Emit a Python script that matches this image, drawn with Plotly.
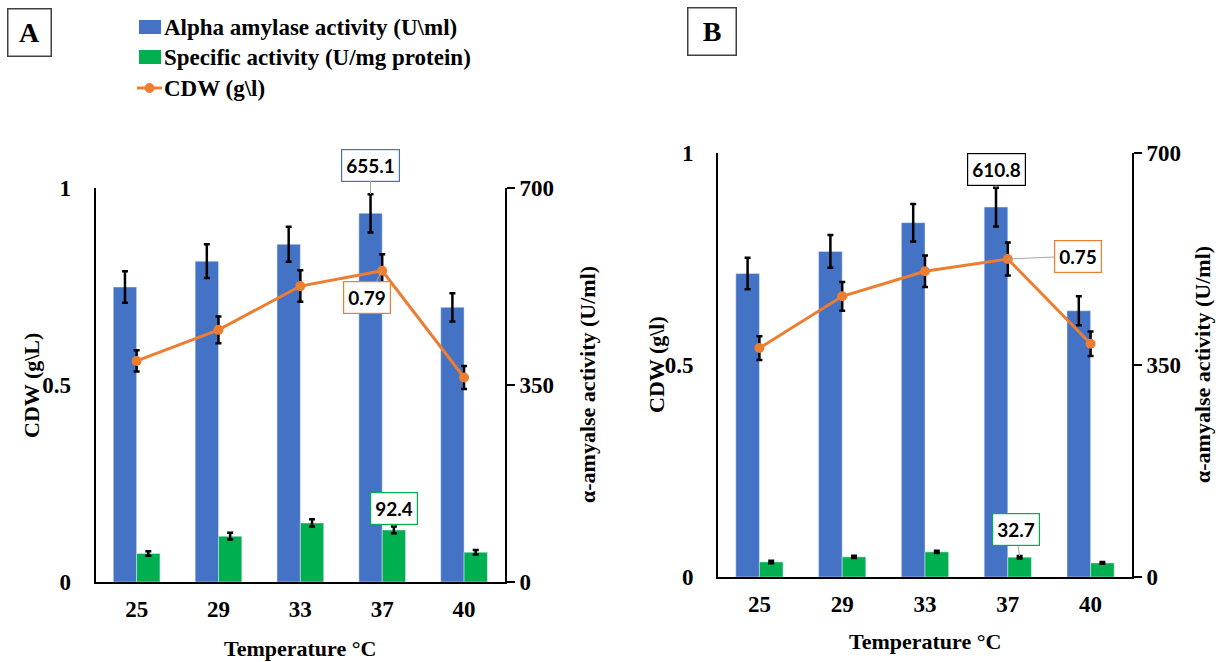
import plotly.graph_objects as go

# ---------------- data ----------------
temps = ['25', '29', '33', '37', '40']

A_amylase = [524, 570, 600, 655.1, 488]
A_amylase_err = [28, 30, 31, 34, 25]
A_specific = [50.7, 81.3, 104.9, 92.4, 53]
A_specific_err = [4, 6, 6.5, 6, 4]
A_cdw = [0.561, 0.640, 0.751, 0.79, 0.519]
A_cdw_err = [0.027, 0.034, 0.040, 0.042, 0.029]

B_amylase = [501, 537.5, 585, 610.8, 439.6]
B_amylase_err = [26, 27, 31, 32, 24]
B_specific = [24.9, 33.2, 41.5, 32.7, 23.2]
B_specific_err = [2, 2, 2, 2, 1.5]
B_cdw = [0.54, 0.662, 0.721, 0.75, 0.55]
B_cdw_err = [0.028, 0.034, 0.037, 0.039, 0.029]

series_names = ['Alpha amylase activity (U\\ml)', 'Specific activity (U/mg protein)', 'CDW (g\\l)']

BLUE = '#4472C4'
GREEN = '#00B050'
ORANGE = '#ED7D31'
SERIF = 'Liberation Serif'
W, H = 1221, 662

fig = go.Figure()

def add_panel(xr, ybar, yline, amy, amy_e, spec, spec_e, cdw, cdw_e):
    fig.add_trace(go.Bar(x=temps, y=amy, name=series_names[0],
                         marker=dict(color=BLUE), xaxis=xr, yaxis=ybar,
                         error_y=dict(type='data', array=amy_e, color='black', thickness=2.5, width=3),
                         showlegend=False))
    fig.add_trace(go.Bar(x=temps, y=spec, name=series_names[1],
                         marker=dict(color=GREEN), xaxis=xr, yaxis=ybar,
                         error_y=dict(type='data', array=spec_e, color='black', thickness=2.5, width=3),
                         showlegend=False))
    fig.add_trace(go.Scatter(x=temps, y=cdw, name=series_names[2], mode='lines+markers',
                             line=dict(color=ORANGE, width=3),
                             marker=dict(color=ORANGE, size=10),
                             error_y=dict(type='data', array=cdw_e, color='black', thickness=2.5, width=3),
                             xaxis=xr, yaxis=yline, showlegend=False))

add_panel('x', 'y', 'y2', A_amylase, A_amylase_err, A_specific, A_specific_err, A_cdw, A_cdw_err)
add_panel('x2', 'y3', 'y4', B_amylase, B_amylase_err, B_specific, B_specific_err, B_cdw, B_cdw_err)

tickfont = dict(family=SERIF, size=23, color='black', weight='bold')

def xax(domain, anchor):
    return dict(domain=domain, anchor=anchor, type='category', categoryorder='array',
                categoryarray=temps, range=[-0.5, len(temps) - 0.5], automargin=False,
                showline=True, linecolor='black', linewidth=2,
                ticks='', showgrid=False, tickfont=tickfont, ticklabelstandoff=5)

def right_ax(domain, anchor):
    return dict(domain=domain, anchor=anchor, side='right', range=[0, 700], automargin=False,
                tickvals=[0, 350, 700], showline=True, linecolor='black', linewidth=2,
                ticks='outside', ticklen=8, tickwidth=2, tickcolor='black',
                showgrid=False, zeroline=False, tickfont=tickfont, ticklabelstandoff=0)

def left_ax(overlay, anchor):
    return dict(overlaying=overlay, anchor=anchor, side='left', range=[0, 1], automargin=False,
                tickvals=[0, 0.5, 1], ticktext=['0', '0.5', '1'], showline=True,
                linecolor='black', linewidth=2, ticks='', showgrid=False, zeroline=False,
                tickfont=tickfont, ticklabelstandoff=18)

A_xdom = [95.7 / W, 505 / W]
A_ydom = [1 - 582 / H, 1 - 188 / H]
B_xdom = [718 / W, 1132 / W]
B_ydom = [1 - 577 / H, 1 - 153 / H]

fig.update_layout(
    width=W, height=H, margin=dict(l=0, r=0, t=0, b=0, pad=0, autoexpand=False),
    paper_bgcolor='white', plot_bgcolor='white',
    barmode='group', bargap=0.43, bargroupgap=0,
    font=dict(family=SERIF, size=22, color='black'),
    showlegend=False,
    xaxis=xax(A_xdom, 'y'),
    yaxis=right_ax(A_ydom, 'x'),
    yaxis2=left_ax('y', 'x'),
    xaxis2=xax(B_xdom, 'y3'),
    yaxis3=right_ax(B_ydom, 'x2'),
    yaxis4=left_ax('y3', 'x2'),
)

annots = []
shapes = []
title_font = dict(family=SERIF, size=22, color='black', weight='bold')
# axis titles
for x, y, txt, ang in [
    (31, 385, 'CDW (g\\L)', -90), (587, 385, 'α-amyalse activity (U/ml)', -90),
    (656, 365, 'CDW (g\\l)', -90), (1202, 365, 'α-amyalse activity (U/ml)', -90),
    (300, 648, 'Temperature °C', 0), (925, 641, 'Temperature °C', 0)]:
    annots.append(dict(x=x / W, y=1 - y / H, xref='paper', yref='paper', text=txt,
                       textangle=ang, showarrow=False, font=title_font,
                       xanchor='center', yanchor='middle'))
# panel letters
for x, y, w, h, txt in [(30, 32, 40, 44, 'A'), (712, 31, 45, 44, 'B')]:
    annots.append(dict(x=x / W, y=1 - y / H, xref='paper', yref='paper', text=txt,
                       showarrow=False, font=dict(family=SERIF, size=28, color='black', weight='bold'),
                       width=w, height=h, bordercolor='#404040', borderwidth=1.5,
                       bgcolor='white', xanchor='center', yanchor='middle'))

# legend (drawn manually to match the wide swatches)
leg_font = dict(family=SERIF, size=23, color='black', weight='bold')
leg_rows = [27, 57, 88]
for k, (name, col) in enumerate(zip(series_names, [BLUE, GREEN, ORANGE])):
    yc = leg_rows[k]
    if k < 2:
        shapes.append(dict(type='rect', xref='paper', yref='paper',
                           x0=139 / W, x1=161 / W, y0=1 - (yc + 7) / H, y1=1 - (yc - 7) / H,
                           fillcolor=col, line=dict(width=0)))
    else:
        shapes.append(dict(type='line', xref='paper', yref='paper',
                           x0=137 / W, x1=162 / W, y0=1 - yc / H, y1=1 - yc / H,
                           line=dict(color=col, width=3)))
        shapes.append(dict(type='circle', xref='paper', yref='paper',
                           x0=145 / W, x1=154 / W, y0=1 - (yc + 4.5) / H, y1=1 - (yc - 4.5) / H,
                           fillcolor=col, line=dict(color=col, width=1)))
    annots.append(dict(x=162 / W, y=1 - yc / H, xref='paper', yref='paper', text=name,
                       showarrow=False, font=leg_font, xanchor='left', yanchor='middle'))

lab_font = dict(family='Lato', size=19, color='black', weight='bold')
i = temps.index('37')

def label(xr, yr, y, txt, col, xshift, ax, ay):
    annots.append(dict(x=i, y=y, xref=xr, yref=yr, text=txt, xshift=xshift,
                       showarrow=True, ax=ax, ay=ay, arrowhead=0, arrowwidth=1,
                       arrowcolor='#A6A6A6', standoff=0, font=lab_font,
                       bordercolor=col, borderwidth=1.2, borderpad=4, bgcolor='white'))

label('x', 'y', A_amylase[i] + A_amylase_err[i], '655.1', BLUE, -11.7, 0, -29)
label('x', 'y2', A_cdw[i], '0.79', ORANGE, 0, -15, 27)
label('x', 'y', A_specific[i] + A_specific_err[i], '92.4', GREEN, 11.7, 0, -18)
label('x2', 'y3', B_amylase[i] + B_amylase_err[i], '610.8', 'black', -11.8, 0, -18)
label('x2', 'y4', B_cdw[i], '0.75', ORANGE, 0, 70, -3)
label('x2', 'y3', B_specific[i] + B_specific_err[i], '32.7', GREEN, 11.8, -4, -26)

fig.update_layout(annotations=annots, shapes=shapes)

post = """
document.body.style.margin='0';
document.body.style.overflow='hidden';
"""
fig.write_html('out.html', config={'displayModeBar': False}, post_script=post)
